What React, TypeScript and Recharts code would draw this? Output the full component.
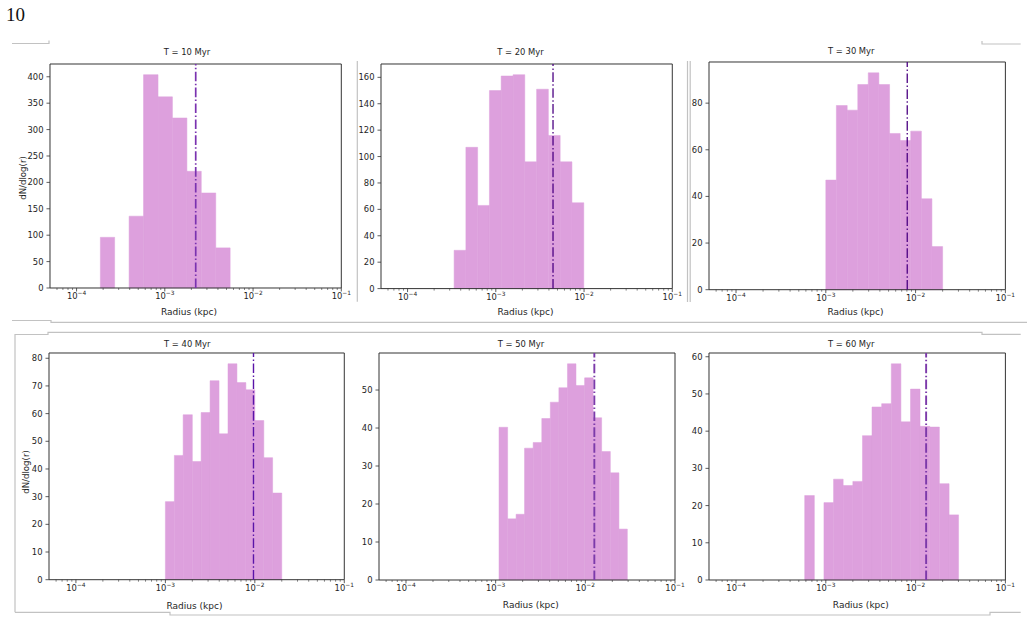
import React from 'react';
import { ComposedChart, XAxis, YAxis, ReferenceArea, ReferenceLine } from 'recharts';

const FONT = '"DejaVu Sans", sans-serif';

// ---------- data ----------
const titles = ['T = 10 Myr', 'T = 20 Myr', 'T = 30 Myr', 'T = 40 Myr', 'T = 50 Myr', 'T = 60 Myr'];
const xLabel = 'Radius (kpc)';
const yLabel = 'dN/dlog(r)';

// bin edges (kpc)
const edges10 = [1.86e-4, 2.7e-4, 3.94e-4, 5.74e-4, 8.38e-4, 1.22e-3, 1.78e-3, 2.59e-3, 3.78e-3, 5.5e-3];
const counts10 = [96, 0, 136, 404, 362, 322, 221, 180, 76];
const median10 = 2.24e-3;

const edges20 = [3.37e-4, 4.58e-4, 6.22e-4, 8.47e-4, 1.15e-3, 1.57e-3, 2.13e-3, 2.9e-3, 3.94e-3, 5.36e-3, 7.29e-3, 9.93e-3];
const counts20 = [29, 107, 63, 150, 161, 162, 96, 151, 116, 96, 65];
const median20 = 4.45e-3;

const edges30 = [1.0e-3, 1.31e-3, 1.73e-3, 2.27e-3, 2.97e-3, 3.9e-3, 5.13e-3, 6.73e-3, 8.83e-3, 1.16e-2, 1.52e-2, 2.0e-2];
const counts30 = [47, 79, 77, 88, 93, 88, 67, 64, 68, 39, 18.5];
const median30 = 8.07e-3;

const edges40 = [1.0e-3, 1.26e-3, 1.58e-3, 2.0e-3, 2.51e-3, 3.16e-3, 3.98e-3, 5.01e-3, 6.31e-3, 7.94e-3, 1.0e-2, 1.26e-2, 1.58e-2, 2.0e-2];
const counts40 = [28.2, 44.9, 59.6, 42.7, 60.4, 71.9, 52.7, 78, 71.2, 68.6, 57.5, 44.1, 31.3];
const median40 = 9.66e-3;

const edges50 = [1.09e-3, 1.36e-3, 1.69e-3, 2.1e-3, 2.62e-3, 3.27e-3, 4.07e-3, 5.07e-3, 6.32e-3, 7.87e-3, 9.82e-3, 1.22e-2, 1.52e-2, 1.9e-2, 2.37e-2, 2.94e-2];
const counts50 = [40.2, 16.1, 17.3, 34.7, 36.2, 42.5, 46.8, 50.6, 56.9, 51.2, 53.2, 42.7, 33.8, 28.2, 13.4];
const median50 = 1.26e-2;

const edges60 = [5.82e-4, 7.45e-4, 9.53e-4, 1.22e-3, 1.56e-3, 2.0e-3, 2.56e-3, 3.27e-3, 4.19e-3, 5.36e-3, 6.86e-3, 8.77e-3, 1.12e-2, 1.44e-2, 1.84e-2, 2.36e-2, 3.01e-2];
const counts60 = [22.7, 0, 20.8, 27.1, 25.4, 26.5, 38.8, 46.5, 47.4, 58.1, 42.5, 51.3, 41.3, 41.1, 25.9, 17.5];
const median60 = 1.31e-2;

const yTicks10 = [0, 50, 100, 150, 200, 250, 300, 350, 400];
const yTicks20 = [0, 20, 40, 60, 80, 100, 120, 140, 160];
const yTicks30 = [0, 20, 40, 60, 80];
const yTicks40 = [0, 10, 20, 30, 40, 50, 60, 70, 80];
const yTicks50 = [0, 10, 20, 30, 40, 50];
const yTicks60 = [0, 10, 20, 30, 40, 50, 60];

const xMajorTicks = [1e-4, 1e-3, 1e-2, 1e-1];
const xMantissas = [2, 3, 4, 5, 6, 7, 8, 9];
const xDomain: [number, number] = [5e-5, 0.1];

// ---------- layout / style ----------
const panels = [
  { L: 50, T: 64.3, W: 291.3, H: 224, edges: edges10, counts: counts10, median: median10, yTicks: yTicks10, lc: '#7a32b0', lw: 1.7 },
  { L: 381, T: 63.7, W: 291.3, H: 224.6, edges: edges20, counts: counts20, median: median20, yTicks: yTicks20, lc: '#4b0082', lw: 1.3 },
  { L: 709.3, T: 62.3, W: 296.4, H: 227.7, edges: edges30, counts: counts30, median: median30, yTicks: yTicks30, lc: '#4b0082', lw: 1.3 },
  { L: 49, T: 353.3, W: 295.3, H: 226.7, edges: edges40, counts: counts40, median: median40, yTicks: yTicks40, lc: '#5a14a8', lw: 1.4 },
  { L: 379.3, T: 353.3, W: 296, H: 227, edges: edges50, counts: counts50, median: median50, yTicks: yTicks50, lc: '#7c3aaa', lw: 1.9 },
  { L: 709.3, T: 353.3, W: 296.4, H: 227, edges: edges60, counts: counts60, median: median60, yTicks: yTicks60, lc: '#7c3aaa', lw: 1.9 },
];

const titlePos = [[187, 55], [520.5, 55], [851.3, 54.3], [187.3, 346.7], [521, 346.7], [851.3, 346.7]];
const xLabelPos = [[189, 315], [525.5, 315], [855.5, 314.5], [194.5, 608.5], [530.8, 608.3], [860.8, 608.3]];

const AXIS = '#333';
const TEXT = '#1e1e1e';

const minorTicks: number[] = [];
[1e-5, 1e-4, 1e-3, 1e-2].forEach((d) =>
  xMantissas.forEach((m) => {
    const v = m * d;
    if (v > xDomain[0] * 1.001 && v < xDomain[1]) minorTicks.push(v);
  })
);
const xTicks = [...xMajorTicks, ...minorTicks].sort((a, b) => a - b);

const XTick = (props: any) => {
  const { x, y, payload } = props;
  const v = payload.value;
  const e = Math.log10(v);
  const major = Math.abs(e - Math.round(e)) < 1e-6;
  return (
    <g>
      <line x1={x} x2={x} y1={y} y2={y + (major ? 3.5 : 2)} stroke={AXIS} strokeWidth={major ? 0.8 : 0.6} />
      {major && (
        <text x={x} y={y + 11} textAnchor="middle" fontSize={8.4} fill={TEXT} fontFamily={FONT}>
          10
          <tspan dy={-3.6} fontSize={5.9}>{'\u2212' + Math.abs(Math.round(e))}</tspan>
        </text>
      )}
    </g>
  );
};

const YTick = (props: any) => {
  const { x, y, payload } = props;
  return (
    <g>
      <line x1={x - 3.5} x2={x} y1={y} y2={y} stroke={AXIS} strokeWidth={0.8} />
      <text x={x - 6.5} y={y + 3} textAnchor="end" fontSize={8.4} fill={TEXT} fontFamily={FONT}>
        {payload.value}
      </text>
    </g>
  );
};

function Panel({ p }: { p: any }) {
  const bins = p.counts.map((c: number, i: number) => ({
    x0: p.edges[i],
    x1: p.edges[i + 1],
    xc: Math.sqrt(p.edges[i] * p.edges[i + 1]),
    count: c,
  }));
  const yMax = Math.max(...p.counts) * 1.05;
  return (
    <div style={{ position: 'absolute', left: p.L - 45, top: p.T - 10 }}>
      <ComposedChart
        width={p.W + 55}
        height={p.H + 40}
        data={bins}
        margin={{ top: 10, right: 10, left: 0, bottom: 0 }}
      >
        <XAxis
          type="number"
          dataKey="xc"
          scale="log"
          domain={xDomain}
          allowDataOverflow
          ticks={xTicks}
          interval={0}
          tickSize={0}
          tickMargin={0}
          tickLine={false}
          axisLine={false}
          tick={<XTick />}
          height={30}
        />
        <YAxis
          type="number"
          domain={[0, yMax]}
          allowDataOverflow
          ticks={p.yTicks}
          interval={0}
          tickSize={0}
          tickMargin={0}
          tickLine={false}
          axisLine={false}
          tick={<YTick />}
          width={45}
        />
        {bins
          .filter((b: any) => b.count > 0)
          .map((b: any, i: number) => (
            <ReferenceArea
              key={'b' + i}
              x1={b.x0}
              x2={b.x1}
              y1={0}
              y2={b.count}
              fill="#dda0dd"
              fillOpacity={1}
              stroke="#dda0dd"
              strokeWidth={0.5}
              ifOverflow="visible"
            />
          ))}
        <ReferenceLine
          x={p.median}
          stroke={p.lc}
          strokeWidth={p.lw}
          strokeDasharray="9.6 2.4 1.5 2.4"
          ifOverflow="visible"
        />
        <ReferenceArea
          x1={xDomain[0]}
          x2={xDomain[1]}
          y1={0}
          y2={yMax}
          fill="none"
          fillOpacity={0}
          stroke={AXIS}
          strokeWidth={1}
          ifOverflow="visible"
        />
      </ComposedChart>
    </div>
  );
}

export default function App() {
  const G = '#c2c2c2';
  return (
    <div style={{ position: 'absolute', left: 0, top: 0, width: 1027, height: 622, background: '#fff', overflow: 'hidden' }}>
      <svg width={1027} height={622} style={{ position: 'absolute', left: 0, top: 0 }}>
        <text x={6} y={20.5} fontSize={19} fontFamily='"Liberation Serif", serif' fill="#111">10</text>
        <g fill="none" stroke={G} strokeWidth={1.2}>
          <path d="M12,43.5 H49 V40.5" />
          <path d="M982,41 V44 H1020.7" />
          <path d="M357.3,61 V301.7" />
          <path d="M687.5,61 V302" />
          <path d="M690.2,61 V302" />
          <path d="M12,320.5 H51 V322.3 H1027" />
          <path d="M15,612.3 V334.5 H48 V332.3 H982 V334.3 H1020.7" />
          <path d="M15,612.3 H170 V615 H990 V612.3 H1020.7" />
        </g>
        {titles.map((t, i) => (
          <text key={'t' + i} x={titlePos[i][0]} y={titlePos[i][1]} textAnchor="middle" fontSize={8.4} fontFamily={FONT} fill={TEXT}>
            {t}
          </text>
        ))}
        {xLabelPos.map((pos, i) => (
          <text key={'xl' + i} x={pos[0]} y={pos[1]} textAnchor="middle" fontSize={9} fontFamily={FONT} fill={TEXT}>
            {xLabel}
          </text>
        ))}
        <text x={25.8} y={178} transform="rotate(-90 25.8 178)" textAnchor="middle" fontSize={8.6} fontFamily={FONT} fill={TEXT}>
          {yLabel}
        </text>
        <text x={28.8} y={472} transform="rotate(-90 28.8 472)" textAnchor="middle" fontSize={8.6} fontFamily={FONT} fill={TEXT}>
          {yLabel}
        </text>
      </svg>
      {panels.map((p, i) => (
        <Panel key={i} p={p} />
      ))}
    </div>
  );
}
